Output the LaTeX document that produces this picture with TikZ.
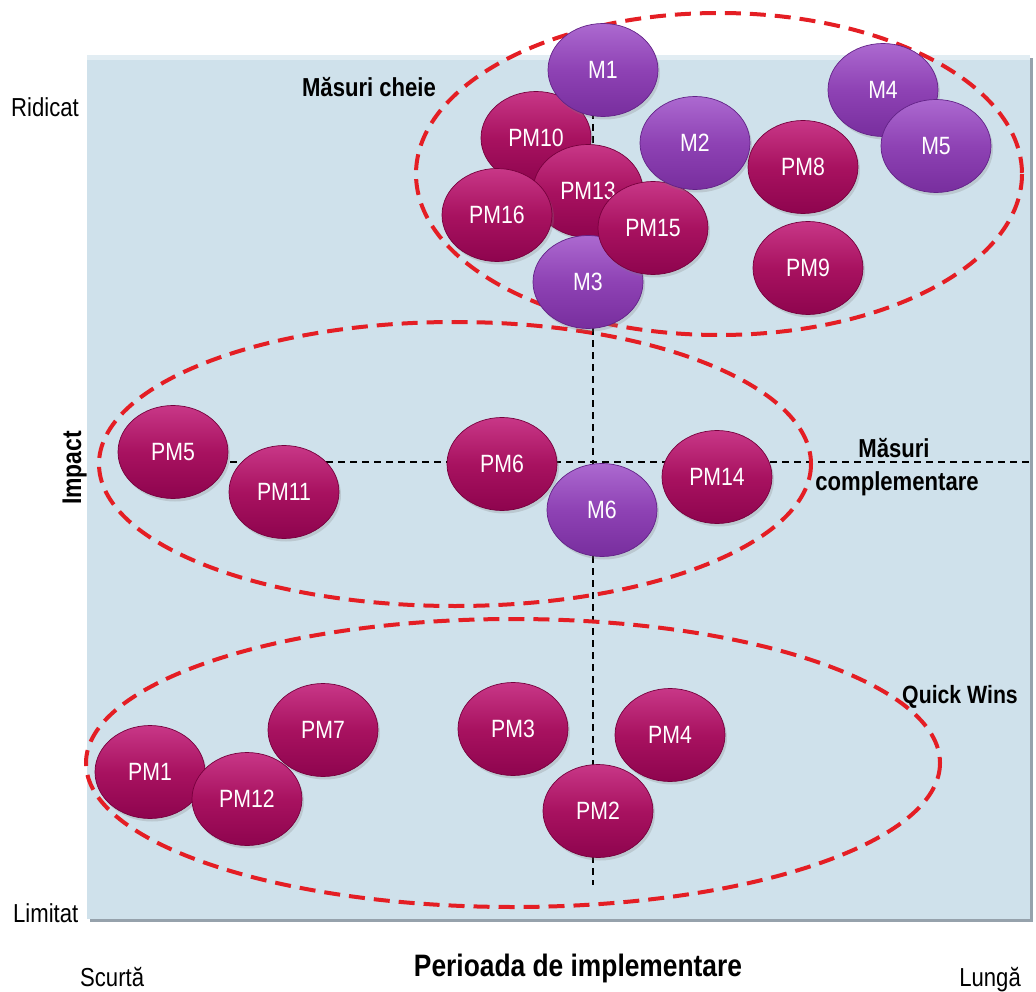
\documentclass[tikz,border=0pt]{standalone}
\usepackage{fontspec}
\setmainfont[FakeStretch=0.85]{Liberation Sans}
\usetikzlibrary{shapes.geometric,shadows}
\definecolor{panel}{RGB}{207,225,235}
\definecolor{panelrim}{RGB}{150,162,172}
\definecolor{redd}{RGB}{228,30,36}
\definecolor{pmtop}{RGB}{200,55,135}
\definecolor{pmmid}{RGB}{168,18,96}
\definecolor{pmbot}{RGB}{142,4,78}
\definecolor{pmedge}{RGB}{118,0,60}
\definecolor{mtop}{RGB}{172,105,208}
\definecolor{mmid}{RGB}{142,66,180}
\definecolor{mbot}{RGB}{120,46,158}
\definecolor{medge}{RGB}{98,34,135}
\begin{document}
\begin{tikzpicture}[x=1pt,y=-1pt,
  bub/.style={ellipse, minimum width=110pt, minimum height=93pt, inner sep=0pt,
    text=white, font=\fontsize{25}{29}\selectfont, line width=0.7pt,
    drop shadow={opacity=0.25, shadow xshift=2pt, shadow yshift=-3pt}},
  pm/.style={bub, draw=pmedge, top color=pmtop, bottom color=pmbot, middle color=pmmid},
  mm/.style={bub, draw=medge, top color=mtop, bottom color=mbot, middle color=mmid},
  axisline/.style={black, line width=1.5pt, dash pattern=on 7pt off 5pt},
  grp/.style={redd, line width=4pt, dash pattern=on 16pt off 9pt},
  lbl/.style={font=\fontsize{26}{31}\selectfont, inner sep=0pt, anchor=base west},
  blbl/.style={font=\fontsize{26}{31}\selectfont\bfseries, inner sep=0pt}
]
\useasboundingbox (0,0) rectangle (1036,992);
% panel
\fill[panelrim] (90,58) rectangle (1033,922);
\fill[panel] (87,55) rectangle (1030,919);
\fill[white, opacity=0.4] (87,55) rectangle (1030,60);

% axes
\coordinate (vtop) at (593,100);
\coordinate (vbot) at (593,885);
\coordinate (hleft) at (170,462);
\coordinate (hright) at (1030,462);
\draw[axisline] (vtop) -- (vbot);
\draw[axisline] (hleft) -- (hright);

% group outlines
\draw[grp] (719,174) ellipse [x radius=303, y radius=161];
\draw[grp] (455,464) ellipse [x radius=356, y radius=142];
\draw[grp] (513,763) ellipse [x radius=427, y radius=144];

% top group
\node[pm] (PM10) at (536,138) {PM10};
\node[mm] (M1) at (603,70) {M1};
\node[pm] (PM13) at (588,191) {PM13};
\node[pm] (PM16) at (497,215) {PM16};
\node[mm] (M3) at (588,282) {M3};
\node[pm] (PM15) at (653,228) {PM15};
\node[mm] (M2) at (695,143) {M2};
\node[pm] (PM8) at (803,167) {PM8};
\node[mm] (M4) at (883,90) {M4};
\node[mm] (M5) at (936,146) {M5};
\node[pm] (PM9) at (808,268) {PM9};

% middle group
\node[pm] (PM5) at (173,452) {PM5};
\node[pm] (PM11) at (284,492) {PM11};
\node[pm] (PM6) at (502,464) {PM6};
\node[mm] (M6) at (602,510) {M6};
\node[pm] (PM14) at (717,477) {PM14};

% bottom group
\node[pm] (PM1) at (150,772) {PM1};
\node[pm] (PM7) at (323,730) {PM7};
\node[pm] (PM12) at (247,799) {PM12};
\node[pm] (PM3) at (513,729) {PM3};
\node[pm] (PM4) at (670,735) {PM4};
\node[pm] (PM2) at (598,811) {PM2};

% labels
\node[blbl, anchor=base] (cheie) at (369,97) {Măsuri cheie};
\node[blbl, anchor=base] (compl1) at (894,457) {Măsuri};
\node[blbl, anchor=base] (compl2) at (897,490) {complementare};
\node[blbl, anchor=base, font=\fontsize{25}{30}\selectfont\bfseries] (quick) at (960,703) {Quick Wins};
\node[lbl] (rid) at (11,117) {Ridicat};
\node[lbl] (lim) at (13,922) {Limitat};
\node[lbl] (scu) at (80,986) {Scurtă};
\node[lbl, anchor=base east] (lun) at (1021,986) {Lungă};
\node[blbl, anchor=base, font=\fontsize{31}{36}\selectfont\bfseries] (per) at (578,976) {Perioada de implementare};
\node[blbl, anchor=base, rotate=90, font=\fontsize{27}{32}\selectfont\bfseries] (imp) at (81,468) {Impact};
\end{tikzpicture}
\end{document}
